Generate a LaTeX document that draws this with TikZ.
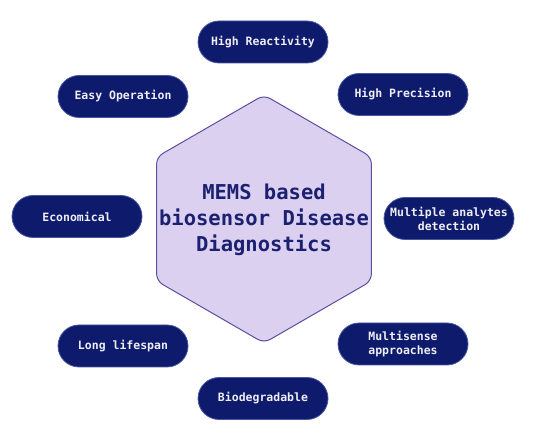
\documentclass[tikz,border=0pt]{standalone}
\usepackage{fontspec}
\setmonofont{DejaVu Sans Mono}
\usetikzlibrary{calc}
\begin{document}
\begin{tikzpicture}[x=1pt,y=1pt,
  pill/.style={draw=pillborder, line width=0.8pt, fill=pillnavy, rounded corners=21pt,
    minimum width=130pt, minimum height=42pt, inner sep=2pt, align=center,
    text=pilltext, font=\ttfamily\bfseries\fontsize{11.5}{14}\selectfont}]
\definecolor{pillnavy}{HTML}{0E1A6C}
\definecolor{pillborder}{HTML}{4A56A0}
\definecolor{pilltext}{HTML}{EEEEF4}
\definecolor{hexfill}{HTML}{DCD0F1}
\definecolor{hexline}{HTML}{5B4FA0}
\definecolor{titlecol}{HTML}{1B2170}
\useasboundingbox (0,0) rectangle (554,441);
\fill[white] (0,0) rectangle (554,441);
% hexagon
\coordinate (hc) at (264,222);
\draw[fill=hexfill, draw=hexline, line width=1pt, rounded corners=7pt]
  ($(hc)+(90:124)$) -- ($(hc)+(30:124)$) -- ($(hc)+(-30:124)$) -- ($(hc)+(-90:124)$)
  -- ($(hc)+(-150:124)$) -- ($(hc)+(150:124)$) -- cycle;
\node[align=center, text=titlecol, font=\ttfamily\bfseries\fontsize{20.5}{26}\selectfont] (title) at (264,221)
  {MEMS based\\biosensor Disease\\Diagnostics};
% pills
\node[pill] (react) at (263,399) {High Reactivity};
\node[pill] (easy) at (123,344.5) {Easy Operation};
\node[pill] (prec) at (403,346.5) {High Precision};
\node[pill] (econ) at (77,224.5) {Economical};
\node[pill] (multi) at (449,222.5) {Multiple analytes\\detection};
\node[pill] (life) at (123,95) {Long lifespan};
\node[pill] (sense) at (403,97) {Multisense\\approaches};
\node[pill] (bio) at (263,42.5) {Biodegradable};
\end{tikzpicture}
\end{document}
